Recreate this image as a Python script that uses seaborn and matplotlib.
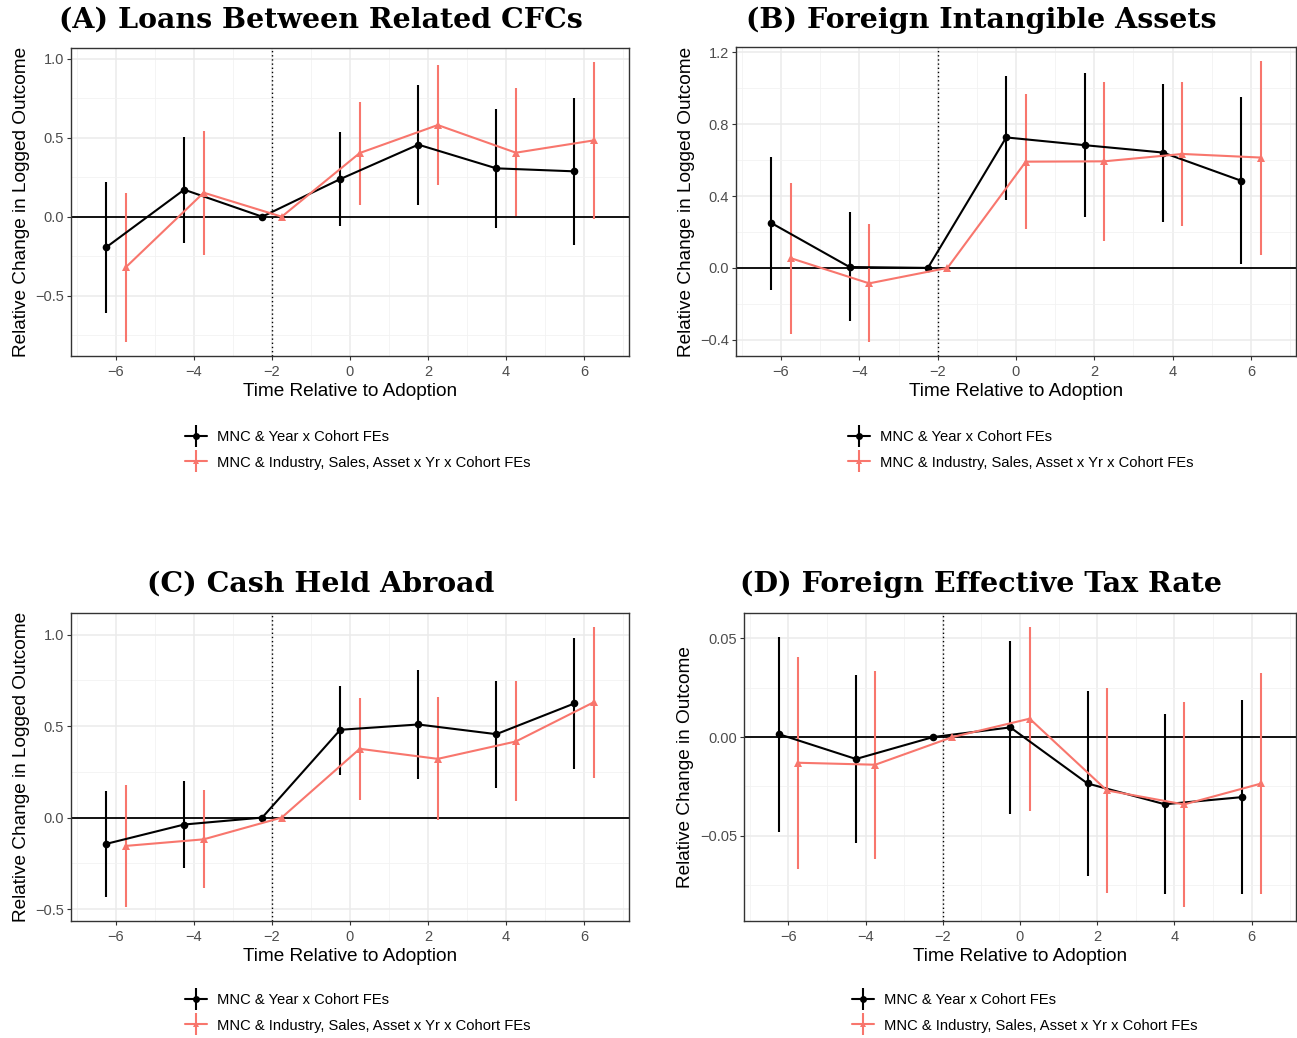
import numpy as np
import pandas as pd
import matplotlib
matplotlib.use("Agg")
import matplotlib.pyplot as plt
from matplotlib.lines import Line2D
from matplotlib.ticker import FixedLocator
import seaborn as sns

# ---------------- data ----------------
event_time = [-6, -4, -2, 0, 2, 4, 6]
spec_labels = ["MNC & Year x Cohort FEs",
               "MNC & Industry, Sales, Asset x Yr x Cohort FEs"]

# (A) Loans between related CFCs
a_base_est = [-0.194, 0.171, 0.0, 0.238, 0.456, 0.306, 0.287]
a_base_lo = [-0.610, -0.165, np.nan, -0.061, 0.074, -0.072, -0.181]
a_base_hi = [0.219, 0.504, np.nan, 0.536, 0.831, 0.684, 0.751]
a_full_est = [-0.321, 0.152, 0.0, 0.403, 0.580, 0.405, 0.483]
a_full_lo = [-0.793, -0.243, np.nan, 0.076, 0.198, 0.002, -0.013]
a_full_hi = [0.150, 0.544, np.nan, 0.726, 0.962, 0.814, 0.979]

# (B) Foreign intangible assets
b_base_est = [0.250, 0.005, 0.0, 0.726, 0.683, 0.642, 0.485]
b_base_lo = [-0.121, -0.297, np.nan, 0.379, 0.282, 0.256, 0.022]
b_base_hi = [0.619, 0.312, np.nan, 1.067, 1.084, 1.024, 0.950]
b_full_est = [0.054, -0.086, 0.0, 0.591, 0.593, 0.634, 0.614]
b_full_lo = [-0.368, -0.412, np.nan, 0.218, 0.151, 0.231, 0.073]
b_full_hi = [0.474, 0.244, np.nan, 0.965, 1.035, 1.035, 1.151]

# (C) Cash held abroad
c_base_est = [-0.144, -0.038, 0.0, 0.480, 0.509, 0.456, 0.624]
c_base_lo = [-0.434, -0.276, np.nan, 0.235, 0.210, 0.161, 0.266]
c_base_hi = [0.148, 0.199, np.nan, 0.721, 0.807, 0.748, 0.982]
c_full_est = [-0.155, -0.119, 0.0, 0.376, 0.321, 0.416, 0.631]
c_full_lo = [-0.489, -0.387, np.nan, 0.095, -0.016, 0.088, 0.219]
c_full_hi = [0.179, 0.150, np.nan, 0.653, 0.659, 0.745, 1.042]

# (D) Foreign effective tax rate
d_base_est = [0.0015, -0.0111, 0.0, 0.0049, -0.0235, -0.0340, -0.0304]
d_base_lo = [-0.0480, -0.0535, np.nan, -0.0389, -0.0704, -0.0792, -0.0796]
d_base_hi = [0.0508, 0.0313, np.nan, 0.0485, 0.0235, 0.0117, 0.0188]
d_full_est = [-0.0130, -0.0140, 0.0, 0.0093, -0.0270, -0.0341, -0.0235]
d_full_lo = [-0.0666, -0.0617, np.nan, -0.0373, -0.0789, -0.0860, -0.0796]
d_full_hi = [0.0404, 0.0333, np.nan, 0.0557, 0.0247, 0.0176, 0.0323]

panel_titles = ["(A) Loans Between Related CFCs", "(B) Foreign Intangible Assets",
                "(C) Cash Held Abroad", "(D) Foreign Effective Tax Rate"]
y_titles = ["Relative Change in Logged Outcome", "Relative Change in Logged Outcome",
            "Relative Change in Logged Outcome", "Relative Change in Outcome"]
x_title = "Time Relative to Adoption"
x_ticks = [-6, -4, -2, 0, 2, 4, 6]
x_ticklabels = ["\u22126", "\u22124", "\u22122", "0", "2", "4", "6"]
a_yticks = [-0.5, 0.0, 0.5, 1.0]
b_yticks = [-0.4, 0.0, 0.4, 0.8, 1.2]
c_yticks = [-0.5, 0.0, 0.5, 1.0]
d_yticks = [-0.05, 0.0, 0.05]
a_ylabels = ["\u22120.5", "0.0", "0.5", "1.0"]
b_ylabels = ["\u22120.4", "0.0", "0.4", "0.8", "1.2"]
c_ylabels = ["\u22120.5", "0.0", "0.5", "1.0"]
d_ylabels = ["\u22120.05", "0.00", "0.05"]

# ---------------- style ----------------
sns.set_theme(style="white")
plt.rcParams["font.family"] = ["Liberation Sans", "DejaVu Sans"]
plt.rcParams["text.color"] = "black"
plt.rcParams["axes.labelcolor"] = "black"

BLACK = "#000000"
RED = "#F8766D"
palette = {spec_labels[0]: BLACK, spec_labels[1]: RED}
markers = {spec_labels[0]: "o", spec_labels[1]: "^"}
DODGE = 0.25

fig = plt.figure(figsize=(12.97, 10.38), dpi=100)
W, H = 1297.0, 1038.0


def box(left, top, right, bottom):
    return [left / W, 1 - bottom / H, (right - left) / W, (bottom - top) / H]


axes_boxes = [box(71, 48, 629, 356), box(736, 47, 1296, 356),
              box(71, 613, 629, 921), box(744, 613, 1296, 921)]
title_pos = [(321, 28), (981, 28), (321, 592), (981, 592)]
legend_pos = [(185, 450), (848, 450), (185, 1013), (852, 1013)]

panels = [
    (a_base_est, a_base_lo, a_base_hi, a_full_est, a_full_lo, a_full_hi, a_yticks, a_ylabels),
    (b_base_est, b_base_lo, b_base_hi, b_full_est, b_full_lo, b_full_hi, b_yticks, b_ylabels),
    (c_base_est, c_base_lo, c_base_hi, c_full_est, c_full_lo, c_full_hi, c_yticks, c_ylabels),
    (d_base_est, d_base_lo, d_base_hi, d_full_est, d_full_lo, d_full_hi, d_yticks, d_ylabels),
]

for i, (be, bl, bh, fe, fl, fh, yt, ylab) in enumerate(panels):
    ax = fig.add_axes(axes_boxes[i])
    t = np.array(event_time, dtype=float)
    df = pd.concat([
        pd.DataFrame({"t": t - DODGE, "est": be, "lo": bl, "hi": bh, "spec": spec_labels[0]}),
        pd.DataFrame({"t": t + DODGE, "est": fe, "lo": fl, "hi": fh, "spec": spec_labels[1]}),
    ], ignore_index=True)

    # reference lines
    ax.axhline(0, color="black", lw=1.3, zorder=2)
    ax.axvline(-2, color="black", lw=1.0, ls=(0, (1, 2)), zorder=2)

    # confidence intervals
    for spec in spec_labels:
        sub = df[df["spec"] == spec].dropna(subset=["lo", "hi"])
        ax.vlines(sub["t"], sub["lo"], sub["hi"], colors=palette[spec], lw=1.5, zorder=3)

    # point estimates joined by lines
    sns.lineplot(data=df, x="t", y="est", hue="spec", style="spec",
                 palette=palette, markers=markers, dashes=False,
                 hue_order=spec_labels, style_order=spec_labels,
                 markersize=5.5, markeredgewidth=0, lw=1.5,
                 legend=False, ax=ax, zorder=4, sort=True, errorbar=None)

    # axis limits with ggplot-style expansion
    ymin = np.nanmin(df[["lo", "est"]].values)
    ymax = np.nanmax(df[["hi", "est"]].values)
    pad = 0.05 * (ymax - ymin)
    ax.set_ylim(ymin - pad, ymax + pad)
    ax.set_xlim(-7.15, 7.15)

    ax.set_xticks(x_ticks)
    ax.set_xticklabels(x_ticklabels)
    ax.set_yticks(yt)
    ax.set_yticklabels(ylab)
    step = yt[1] - yt[0]
    minor_y = [yt[0] - step / 2] + [v + step / 2 for v in yt]
    ax.yaxis.set_minor_locator(FixedLocator(minor_y))
    ax.xaxis.set_minor_locator(FixedLocator([-7, -5, -3, -1, 1, 3, 5, 7]))

    ax.grid(True, which="major", color="#EBEBEB", lw=1.1, zorder=0)
    ax.grid(True, which="minor", color="#F2F2F2", lw=0.6, zorder=0)
    ax.set_axisbelow(True)
    ax.tick_params(axis="both", which="major", labelsize=10.5, labelcolor="#4D4D4D",
                   color="#333333", length=3, width=0.8, bottom=True, left=True)
    ax.tick_params(axis="x", which="major", pad=3.5)
    ax.tick_params(axis="y", which="major", pad=2)
    ax.tick_params(axis="both", which="minor", length=0)
    for s in ax.spines.values():
        s.set_color("#333333")
        s.set_linewidth(1.0)

    ax.set_xlabel(x_title, fontsize=13.7, labelpad=3, color="black")
    ax.set_ylabel(y_titles[i], fontsize=13.7, labelpad=4, color="black")

    tx, ty = title_pos[i]
    fig.text(tx / W, 1 - ty / H, panel_titles[i], ha="center", va="baseline",
             fontsize=20.5, fontweight="bold", family="DejaVu Serif", color="black")

    handles = []
    for spec in spec_labels:
        cross = Line2D([], [], color=palette[spec], lw=1.5, marker="|",
                       markersize=16, markeredgewidth=1.5)
        dot = Line2D([], [], color=palette[spec], lw=0, marker=markers[spec],
                     markersize=5, markeredgewidth=0)
        handles.append((cross, dot))
    lx, ly = legend_pos[i]
    ax.legend(handles, spec_labels, loc="center left",
              bbox_to_anchor=(lx / W, 1 - ly / H), bbox_transform=fig.transFigure,
              frameon=False, fontsize=10.6, handlelength=1.5, handletextpad=0.7,
              labelspacing=0.75, borderpad=0, borderaxespad=0)

fig.savefig("out.png", dpi=100)
